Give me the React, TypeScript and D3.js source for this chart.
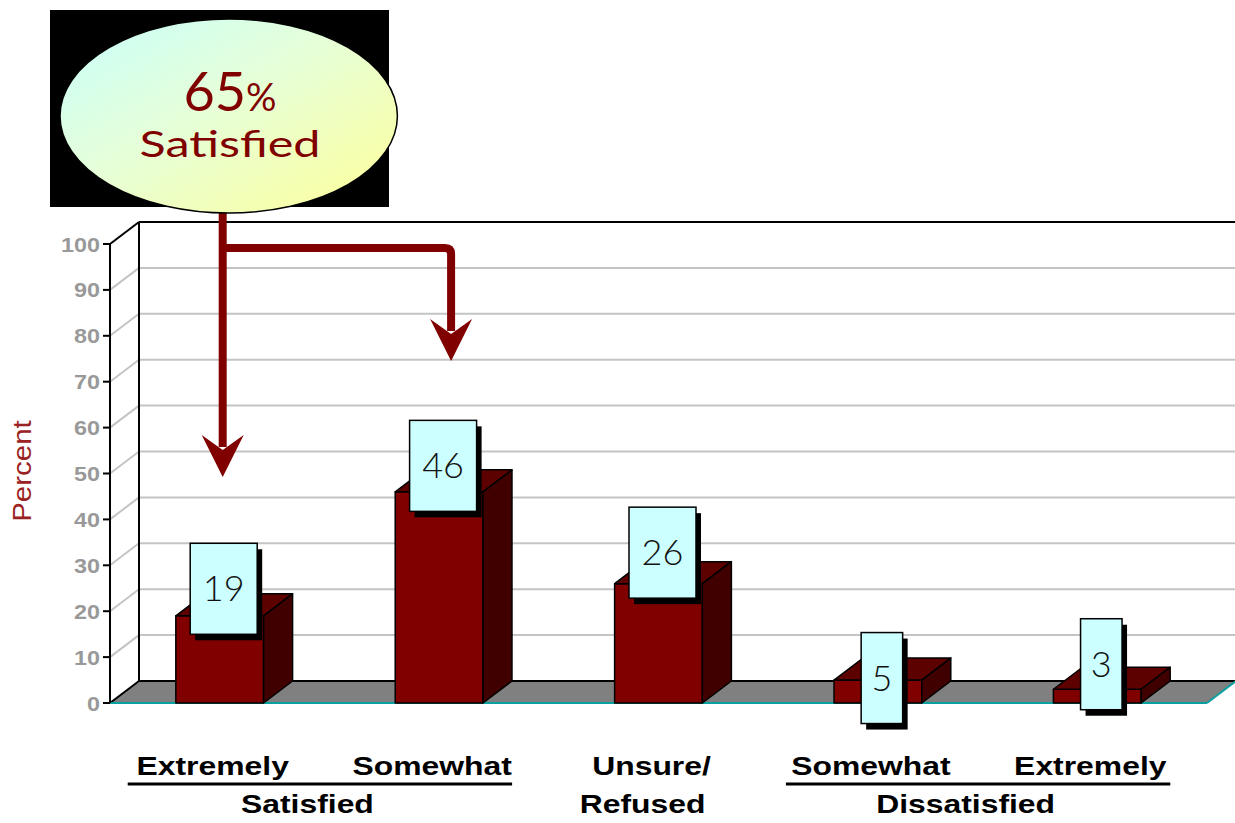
import React from "react";
import * as d3 from "d3";

const categories = ["Extremely", "Somewhat", "Unsure/", "Somewhat", "Extremely"];
const categories2 = ["", "", "Refused", "", ""];
const values = [19, 46, 26, 5, 3];
const yTicks = [0, 10, 20, 30, 40, 50, 60, 70, 80, 90, 100];
const groups = [
  { label: "Satisfied", from: 0, to: 1 },
  { label: "Dissatisfied", from: 3, to: 4 },
];
const calloutValue = "65";
const calloutLabel = "Satisfied";
const yTitle = "Percent";

const W = 1235;
const H = 823;
const DX = 29;
const DY = -22;
const RED = "#800000";

export default function App() {
  const x = d3.scaleBand<number>().domain(d3.range(values.length)).range([110, 1207]).paddingInner(0.6).paddingOuter(0.3);
  const y = d3.scaleLinear().domain([0, 100]).range([703, 244]);
  const bw = x.bandwidth();
  const cx = (i: number) => (x(i) as number) + bw / 2;
  const y0 = y(0);
  const labelLift = [27, 26, 31, 2, 25];

  const arrowHead = (ax: number, tip: number) =>
    `M${ax},${tip} L${ax - 21},${tip - 42} L${ax},${tip - 27} L${ax + 21},${tip - 42} Z`;
  const a1x = cx(0) + 3;
  const a2x = cx(1) + 12;
  const a1tip = 477;
  const a2tip = 361;
  const branchY = 248;

  return (
    <svg width={W} height={H} style={{ position: "absolute", left: 0, top: 0, display: "block", background: "#fff" }}>
      <defs>
        <linearGradient id="eg" x1="0" y1="0" x2="1" y2="1">
          <stop offset="0" stopColor="#c8fffb" />
          <stop offset="0.45" stopColor="#e6ffd8" />
          <stop offset="1" stopColor="#ffff99" />
        </linearGradient>
      </defs>

      {/* back wall gridlines */}
      {yTicks.filter((t) => t > 0 && t < 100).map((t) => (
        <g key={"g" + t}>
          <line x1={110} y1={y(t)} x2={110 + DX} y2={y(t) + DY} stroke="#c4c4c4" strokeWidth={2} />
          <line x1={110 + DX} y1={y(t) + DY} x2={W} y2={y(t) + DY} stroke="#c4c4c4" strokeWidth={2} />
        </g>
      ))}
      {/* top edges */}
      <line x1={110} y1={y(100)} x2={110 + DX} y2={y(100) + DY} stroke="#000" strokeWidth={2} />
      <line x1={110 + DX} y1={y(100) + DY} x2={W} y2={y(100) + DY} stroke="#000" strokeWidth={2} />
      <line x1={110 + DX} y1={y(100) + DY} x2={110 + DX} y2={y0 + DY} stroke="#000" strokeWidth={2} />

      {/* floor */}
      <polygon
        points={`110,${y0} 1207,${y0} ${1207 + DX},${y0 + DY} ${110 + DX},${y0 + DY}`}
        fill="#808080"
      />
      <line x1={110 + DX} y1={y0 + DY} x2={W} y2={y0 + DY} stroke="#000" strokeWidth={2} />
      <line x1={110} y1={y0} x2={110 + DX} y2={y0 + DY} stroke="#000" strokeWidth={2} />
      <line x1={110} y1={y0} x2={1207} y2={y0} stroke="#0aa0a0" strokeWidth={2} />
      <line x1={1207} y1={y0} x2={1207 + DX} y2={y0 + DY} stroke="#0aa0a0" strokeWidth={2} />

      {/* front axis */}
      <line x1={110} y1={y(100)} x2={110} y2={y0} stroke="#000" strokeWidth={2} />
      {yTicks.map((t) => (
        <g key={"t" + t}>
          <line x1={103} y1={y(t)} x2={110} y2={y(t)} stroke="#000" strokeWidth={2} />
          <text
            transform={`translate(100,${y(t) + 7.5}) scale(1.2,1)`}
            textAnchor="end"
            fontFamily="'Liberation Sans', Arial, sans-serif"
            fontWeight="bold"
            fontSize={19.5}
            fill="#999999"
          >
            {t}
          </text>
        </g>
      ))}
      <text
        transform={`translate(31,471) rotate(-90) scale(1.18,1)`}
        textAnchor="middle"
        fontFamily="'Liberation Sans', Arial, sans-serif"
        fontSize={25}
        fill="#9a2222"
      >
        {yTitle}
      </text>

      {/* bars */}
      {values.map((v, i) => {
        const x0 = x(i) as number;
        const x1 = x0 + bw;
        const yt = y(v);
        return (
          <g key={"b" + i} stroke="#000" strokeWidth={1.5} strokeLinejoin="round">
            <polygon points={`${x0},${yt} ${x1},${yt} ${x1},${y0} ${x0},${y0}`} fill="#800000" />
            <polygon points={`${x0},${yt} ${x1},${yt} ${x1 + DX},${yt + DY} ${x0 + DX},${yt + DY}`} fill="#5c0000" />
            <polygon points={`${x1},${yt} ${x1 + DX},${yt + DY} ${x1 + DX},${y0 + DY} ${x1},${y0}`} fill="#400000" />
          </g>
        );
      })}

      {/* value labels */}
      {values.map((v, i) => {
        const s = String(v);
        const w = s.length * 25.5 + 16;
        const h = 91;
        const bx = cx(i) + 4;
        const by = y(v) - labelLift[i];
        return (
          <g key={"l" + i}>
            <rect x={bx - w / 2 + 5} y={by - h / 2 + 6} width={w} height={h} fill="#000" />
            <rect x={bx - w / 2} y={by - h / 2} width={w} height={h} fill="#ccffff" stroke="#000" strokeWidth={1.5} />
            <text
              x={bx}
              y={by + 12.5}
              textAnchor="middle"
              fontFamily="Lato, 'Open Sans', sans-serif"
              fontWeight={300}
              fontSize={36}
              fill="#111"
            >
              {s}
            </text>
          </g>
        );
      })}

      {/* arrows */}
      <g fill={RED} stroke="none">
        <path
          d={`M${a1x},200 L${a1x},${a1tip - 30}`}
          stroke={RED}
          strokeWidth={8}
          fill="none"
        />
        <path
          d={`M${a1x},${branchY} L${a2x - 6},${branchY} Q${a2x},${branchY} ${a2x},${branchY + 6} L${a2x},${a2tip - 30}`}
          stroke={RED}
          strokeWidth={8}
          fill="none"
        />
        <path d={arrowHead(a1x, a1tip)} />
        <path d={arrowHead(a2x, a2tip)} />
      </g>

      {/* callout */}
      <rect x={50} y={10} width={339} height={197} fill="#000" />
      <ellipse cx={228.7} cy={116} rx={168.7} ry={97} fill="url(#eg)" stroke="#000" strokeWidth={1.5} />
      <text x={230} y={111} textAnchor="middle" fontFamily="Lato, 'Open Sans', sans-serif" fill={RED}>
        <tspan fontSize={54}>{calloutValue}</tspan>
        <tspan fontSize={38}>%</tspan>
      </text>
      <text
        x={230}
        y={157}
        textAnchor="middle"
        fontFamily="Lato, 'Open Sans', sans-serif"
        fontSize={36}
        fill={RED}
        textLength={181}
        lengthAdjust="spacingAndGlyphs"
      >
        {calloutLabel}
      </text>

      {/* category labels */}
      {categories.map((c, i) => (
        <g key={"c" + i}>
          <text
            transform={`translate(${cx(i) - 7},775) scale(1.25,1)`}
            textAnchor="middle"
            fontFamily="'Liberation Sans', Arial, sans-serif"
            fontWeight="bold"
            fontSize={25.5}
            fill="#000"
          >
            {c}
          </text>
          {categories2[i] && (
            <text
              transform={`translate(${cx(i) - 16},813) scale(1.25,1)`}
              textAnchor="middle"
              fontFamily="'Liberation Sans', Arial, sans-serif"
              fontWeight="bold"
              fontSize={25.5}
              fill="#000"
            >
              {categories2[i]}
            </text>
          )}
        </g>
      ))}
      {groups.map((g) => (
        <g key={g.label}>
          <line x1={cx(g.from) - 92} x2={cx(g.to) + 73} y1={784} y2={784} stroke="#000" strokeWidth={3} />
          <text
            transform={`translate(${(cx(g.from) + cx(g.to)) / 2 - 22},813) scale(1.25,1)`}
            textAnchor="middle"
            fontFamily="'Liberation Sans', Arial, sans-serif"
            fontWeight="bold"
            fontSize={25.5}
            fill="#000"
          >
            {g.label}
          </text>
        </g>
      ))}
    </svg>
  );
}
